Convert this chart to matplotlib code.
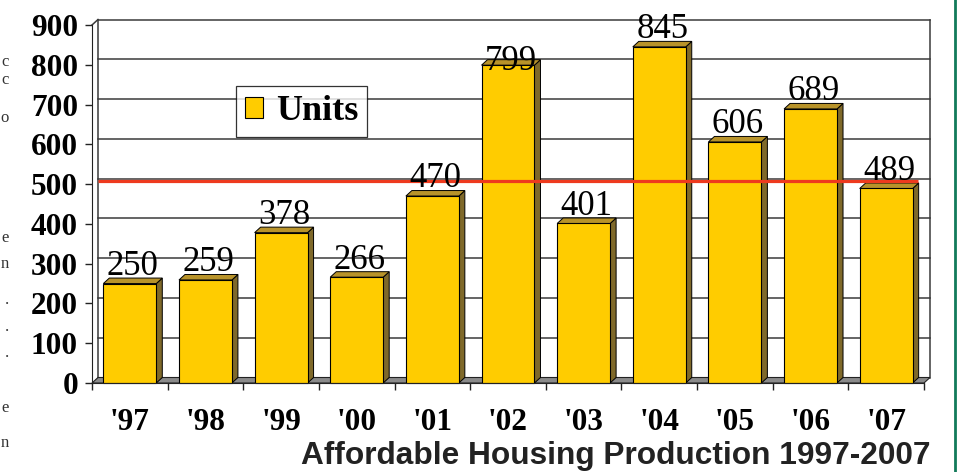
"""
  Affordable housing production bar chart, 1997-2007
"""
import matplotlib
matplotlib.use('Agg')
import matplotlib.pyplot as plt
from matplotlib.patches import Polygon, Rectangle, Patch
from matplotlib.lines import Line2D
import numpy as np

years = ["'97", "'98", "'99", "'00", "'01", "'02", "'03", "'04", "'05", "'06", "'07"]
units = [250, 259, 378, 266, 470, 799, 401, 845, 606, 689, 489]
target = 500
yticks = list(range(0, 1000, 100))

W, H = 963, 472
FACE = '#FFCC00'
SIDE = '#7F692A'
TOP = '#B8932A'
FLOOR = '#8A8A8A'
GRID = '#3a3a3a'

fig = plt.figure(figsize=(W/100, H/100), dpi=100)
fig.patch.set_facecolor('white')

# axes = front plane of the 3d box (pixels)
left, right, top, bottom = 92, 924, 25, 383
ax = fig.add_axes([left/W, 1-bottom/H, (right-left)/W, (bottom-top)/H])
n = len(units)
ax.set_xlim(0, n)
ax.set_ylim(0, 900)

# depth of the box in data units
dx = 6/((right-left)/n)
dy = 5.5/((bottom-top)/900)

# back wall grid
for y in yticks[1:]:
  ax.plot([dx, n+dx], [y+dy, y+dy], color=GRID, lw=1.1, zorder=1, clip_on=False)
ax.plot([dx, dx], [dy, 900+dy], color=GRID, lw=1.1, zorder=1, clip_on=False)
ax.plot([n+dx, n+dx], [dy, 900+dy], color=GRID, lw=1.1, zorder=1, clip_on=False)
ax.plot([0, dx], [900, 900+dy], color=GRID, lw=1.1, zorder=1, clip_on=False)

# floor
ax.add_patch(Polygon([(0, 0), (n, 0), (n+dx, dy), (dx, dy)], closed=True,
                     facecolor=FLOOR, edgecolor='#222222', lw=0.8, zorder=2, clip_on=False))

# bars
bw = 0.70
lift = np.full(n, 43.0)
lift[years.index("'02")] = 8
for i, v in enumerate(units):
  c = i + 0.5
  x0, x1 = c - bw/2, c + bw/2
  ax.add_patch(Polygon([(x1, 0), (x1+dx, dy), (x1+dx, v+dy), (x1, v)], closed=True,
                       facecolor=SIDE, edgecolor='black', lw=0.7, zorder=3, clip_on=False))
  ax.add_patch(Polygon([(x0, v), (x0+dx, v+dy), (x1+dx, v+dy), (x1, v)], closed=True,
                       facecolor=TOP, edgecolor='black', lw=0.7, zorder=3, clip_on=False))
  ax.add_patch(Rectangle((x0, 0), bw, v, facecolor=FACE, edgecolor='black',
                         lw=0.8, zorder=4, clip_on=False))
  ax.text(c + dx/2, v + lift[i], str(v), ha='center', va='center', fontsize=25,
          family='Liberation Serif', color='black', zorder=7, clip_on=False)

# target line
ax.plot([dx, n - 0.08], [target + dy/2, target + dy/2], color='#EE3A1E', lw=2.3,
        zorder=6, solid_capstyle='butt', clip_on=False)

# axes styling
for s in ['top', 'right']:
  ax.spines[s].set_visible(False)
ax.spines['left'].set_color('#222222')
ax.spines['bottom'].set_color('#222222')
ax.spines['left'].set_zorder(5)
ax.spines['bottom'].set_zorder(5)
ax.set_yticks(yticks)
ax.set_yticklabels([str(t) for t in yticks], family='Liberation Serif',
                   fontweight='bold', fontsize=22.5)
ax.tick_params(axis='y', length=5, width=1, pad=5, color='#222222')
ax.set_xticks(np.arange(n) + 0.5)
ax.set_xticklabels(years, family='Liberation Serif', fontweight='bold', fontsize=22.5)
ax.set_xticks(np.arange(n+1), minor=True)
ax.tick_params(axis='x', which='major', length=0, pad=18)
ax.tick_params(axis='x', which='minor', length=5, width=1, color='#222222')
ax.set_facecolor('none')

# legend
leg = ax.legend([Patch(facecolor=FACE, edgecolor='black', lw=0.8)], ['Units'],
                loc='upper left', bbox_to_anchor=(236/W, 1-86/H),
                bbox_transform=fig.transFigure, frameon=True, fancybox=False,
                prop={'family': 'Liberation Serif', 'weight': 'bold', 'size': 26},
                handlelength=0.5, handleheight=0.5, handletextpad=0.35,
                borderpad=0.25, borderaxespad=0)
leg.get_frame().set_edgecolor('black')
leg.get_frame().set_linewidth(0.9)
leg.set_zorder(8)

# title
fig.text(930/W, 1-464/H, 'Affordable Housing Production 1997-2007', ha='right',
         va='baseline', family='Liberation Sans', fontweight='bold', fontsize=22.8,
         color='#222222')

# cut off text of the surrounding page on the left
frag = [('c', 62), ('c', 80), ('o', 118), ('e', 238), ('n', 264), ('.', 300),
        ('.', 327), ('.', 353), ('e', 408), ('n', 443)]
for ch, y in frag:
  fig.text(9/W, 1-y/H, ch, ha='right', va='center', family='Liberation Serif',
           fontsize=12, color='#333333')

# green page border on the right
fig.add_artist(Line2D([955/W, 955/W], [0, 1], transform=fig.transFigure,
                      color='#127a5a', lw=2))

plt.savefig('out.png', dpi=100)
